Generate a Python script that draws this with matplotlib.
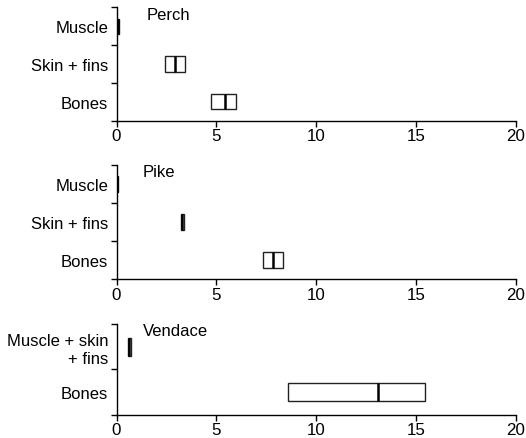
import matplotlib
matplotlib.use("Agg")
import matplotlib.pyplot as plt

plt.rcParams['font.family'] = ['Liberation Sans', 'DejaVu Sans']

species = ["Perch", "Pike", "Vendace"]
perch_labels = ["Muscle", "Skin + fins", "Bones"]
perch_q1 = [0.05, 2.43, 4.75]
perch_med = [0.10, 2.93, 5.45]
perch_q3 = [0.15, 3.43, 6.00]

pike_labels = ["Muscle", "Skin + fins", "Bones"]
pike_q1 = [0.00, 3.22, 7.35]
pike_med = [0.03, 3.30, 7.85]
pike_q3 = [0.07, 3.38, 8.35]

vendace_labels = ["Muscle + skin\n+ fins", "Bones"]
vendace_q1 = [0.57, 8.60]
vendace_med = [0.65, 13.10]
vendace_q3 = [0.74, 15.45]

xticks = [0, 5, 10, 15, 20]

panels = [
    (perch_labels, perch_q1, perch_med, perch_q3),
    (pike_labels, pike_q1, pike_med, pike_q3),
    (vendace_labels, vendace_q1, vendace_med, vendace_q3),
]

W, H = 526, 439
fig = plt.figure(figsize=(W / 100, H / 100), dpi=100)
left = 116.5 / W
width = 399.5 / W
rects = [(8.3, 121.7), (166, 280), (325, 415.5)]
title_offset_px = 6.7

for (labels, q1, med, q3), name, (top, bot) in zip(panels, species, rects):
    ax = fig.add_axes([left, 1 - bot / H, width, (bot - top) / H])
    n = len(labels)
    pos = list(range(n - 1, -1, -1))
    stats = []
    for a, m, b in zip(q1, med, q3):
        stats.append(dict(q1=a, med=m, q3=b, whislo=a, whishi=b, fliers=[]))
    ax.bxp(stats, positions=pos, widths=0.4, orientation='horizontal',
           showcaps=False, showfliers=False, patch_artist=True,
           boxprops=dict(facecolor='white', edgecolor='#222222', linewidth=1.0),
           medianprops=dict(color='black', linewidth=1.8),
           whiskerprops=dict(linewidth=0))
    ax.set_xlim(0, 20)
    ax.set_ylim(-0.5, n - 0.5)
    ax.set_xticks(xticks)
    ax.set_xticklabels([str(t) for t in xticks], fontsize=12.2)
    ax.set_yticks(pos)
    ax.set_yticklabels(labels, fontsize=12, ha='right', linespacing=1.25)
    ax.tick_params(axis='y', length=0, pad=6)
    ax.set_yticks([i - 0.5 for i in range(n + 1)], minor=True)
    ax.tick_params(axis='y', which='minor', length=4, width=1, direction='out')
    ax.tick_params(axis='x', length=4, width=1, direction='out', pad=1.5)
    for s in ['top', 'right']:
        ax.spines[s].set_visible(False)
    for s in ['left', 'bottom']:
        ax.spines[s].set_linewidth(1.0)
    h = bot - top
    ax.text(1.5 if name == "Perch" else 1.3, n - 0.5 - (title_offset_px / h) * n,
            name, fontsize=12, ha='left', va='center')

fig.savefig("out.png", dpi=100)
